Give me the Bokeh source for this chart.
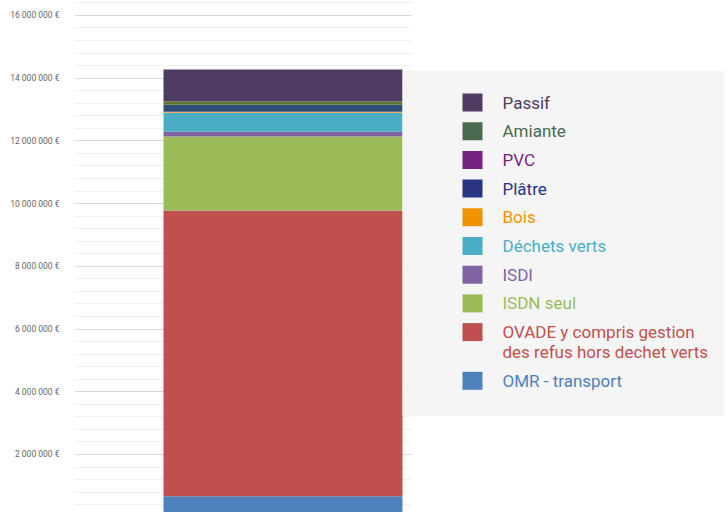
from bokeh.plotting import figure
from bokeh.models import ColumnDataSource, Range1d, SingleIntervalTicker, CustomJSTickFormatter
from bokeh.core.properties import value
from bokeh.embed import file_html
from bokeh.resources import INLINE

# ---- data (bottom to top of the stack) ----
categories = ["OMR - transport",
              "OVADE y compris gestion des refus hors dechet verts",
              "ISDN seul", "ISDI", "Déchets verts", "Bois", "Plâtre",
              "PVC", "Amiante", "Passif"]
values = [670000, 9110000, 2360000, 150000, 610000, 30000, 220000,
          5000, 100000, 1020000]
bar_colors = ["#4f81bd", "#c0504d", "#9bbb59", "#8064a2", "#4bacc6",
              "#f79646", "#2c4d75", "#772c87", "#5f7530", "#4e3b62"]

# legend (top to bottom)
legend_labels = ["Passif", "Amiante", "PVC", "Plâtre", "Bois", "Déchets verts",
                 "ISDI", "ISDN seul",
                 "OVADE y compris gestion\ndes refus hors dechet verts",
                 "OMR - transport"]
legend_colors = ["#4e3b62", "#4a6b50", "#76237f", "#283583", "#f39200",
                 "#4bacc6", "#8064a2", "#9bbb59", "#c0504d", "#4f81bd"]

tick_step = 2000000
y_min, y_max = 150000, 16476000

# ---- figure ----
p = figure(width=728, height=512, output_backend="svg", toolbar_location=None,
           x_range=Range1d(74, 728), y_range=Range1d(y_min, y_max),
           min_border_left=74, min_border_right=0, min_border_top=0,
           min_border_bottom=0)
p.extra_y_ranges = {"page": Range1d(512, 0)}
p.outline_line_color = None
p.background_fill_color = "white"
p.border_fill_color = "white"
p.xaxis.visible = False
p.xgrid.visible = False

ticker = SingleIntervalTicker(interval=tick_step, num_minor_ticks=5)
p.yaxis.ticker = ticker
p.yaxis.formatter = CustomJSTickFormatter(code="""
    return Math.round(tick).toString().replace(/\\B(?=(\\d{3})+(?!\\d))/g, " ") + " \u20ac";
""")
p.yaxis.axis_line_color = None
p.yaxis.major_tick_line_color = None
p.yaxis.minor_tick_line_color = None
p.yaxis.major_label_standoff = 9
p.yaxis.major_label_text_font = "Roboto"
p.yaxis.major_label_text_font_size = "8.5px"
p.yaxis.major_label_text_color = "#666666"

p.ygrid.ticker = ticker
p.ygrid.grid_line_color = "#d9d9d9"
p.ygrid.grid_line_width = 1
p.ygrid.minor_grid_line_color = "#f0f0f0"
p.ygrid.minor_grid_line_width = 1
p.ygrid.cross_bounds = (74, 411)

# ---- stacked bar ----
keys = ["s%d" % i for i in range(len(values))]
data = {"x": [282.5]}
for k, v in zip(keys, values):
    data[k] = [v]
src = ColumnDataSource(data)
p.vbar_stack(keys, x="x", width=239, color=bar_colors, source=src, line_color=None)

# ---- legend panel ----
p.quad(left=[402], right=[724], top=[70], bottom=[415.7], y_range_name="page",
       fill_color="#f5f5f5", line_color=None)

row_y = []
y = 102.0
for lab in legend_labels:
    row_y.append(y)
    y += 28.7 + 20 * (lab.count("\n"))

p.quad(left=[462] * len(row_y), right=[482] * len(row_y),
       top=[v - 9 for v in row_y], bottom=[v + 9 for v in row_y],
       y_range_name="page", fill_color=legend_colors, line_color=None)

tx, ty, tt, tc = [], [], [], []
for lab, yy, col in zip(legend_labels, row_y, legend_colors):
    for k, line in enumerate(lab.split("\n")):
        tx.append(502)
        ty.append(yy + 20 * k)
        tt.append(line)
        tc.append(col)
p.text(x=tx, y=ty, text=tt, text_color=tc, y_range_name="page",
       text_baseline="middle", text_align="left",
       text_font=value("Roboto"), text_font_size="17px")

open("out.html", "w").write(file_html(p, INLINE))
